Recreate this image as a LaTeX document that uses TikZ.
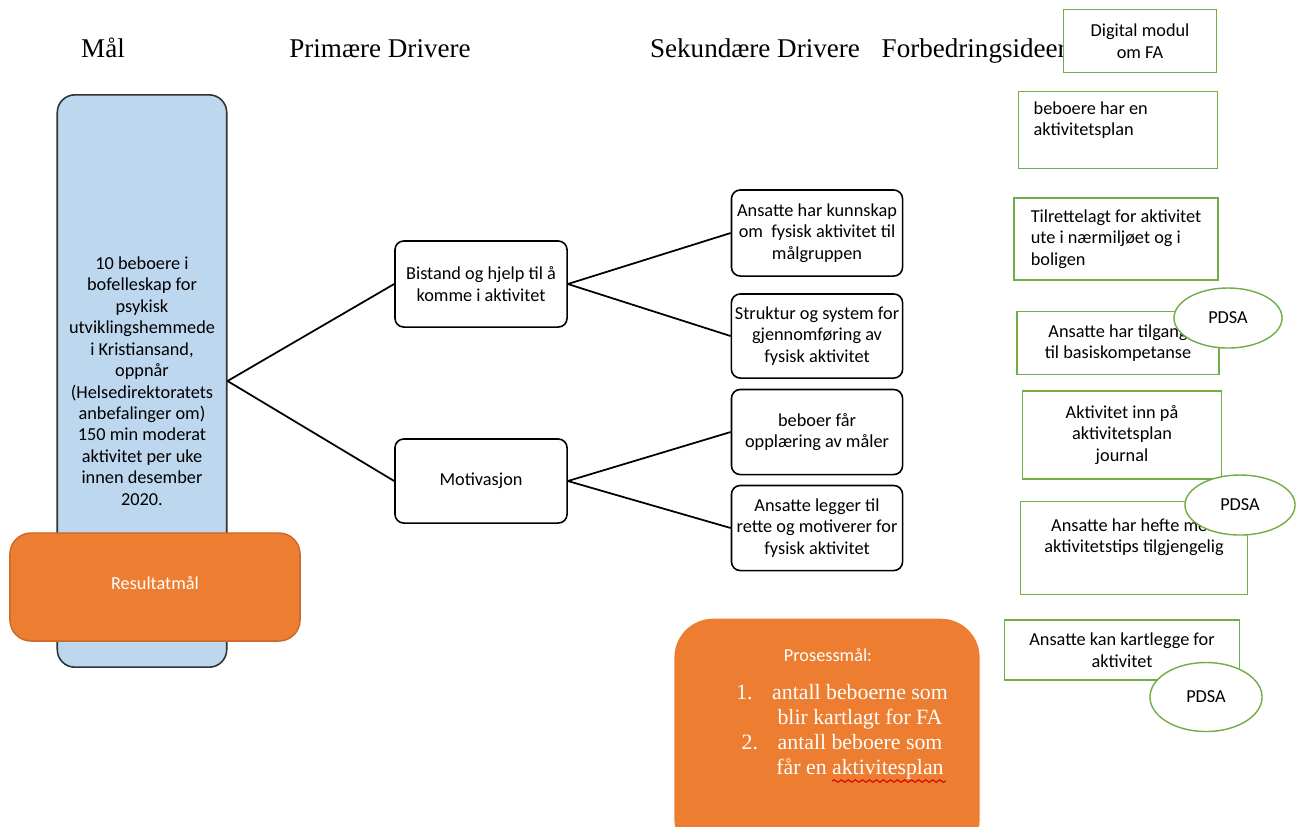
\documentclass[tikz,border=0pt]{standalone}
\usepackage{fontspec}
\setmainfont{Carlito}
\newfontfamily\headfont{Liberation Serif}
\usepackage{tikz}
\usetikzlibrary{positioning, shapes.geometric, decorations.pathmorphing}

\definecolor{goalblue}{HTML}{BDD7EE}
\definecolor{resorange}{HTML}{ED7D31}
\definecolor{ideagreen}{HTML}{70AD47}

\tikzset{
    heading/.style={font=\headfont\fontsize{7.7pt}{9pt}\selectfont, inner sep=0pt, anchor=base},
    driver/.style={draw=black, rounded corners=2.5pt, fill=white, line width=0.45pt,
        align=center, font=\fontsize{5.2pt}{6.1pt}\selectfont, inner sep=1pt},
    idea/.style={draw=ideagreen, fill=white, line width=0.4pt, align=center,
        font=\fontsize{5.2pt}{6.1pt}\selectfont, inner sep=1pt},
    ideatext/.style={align=left, font=\fontsize{5.2pt}{6.1pt}\selectfont, inner sep=0pt},
    pdsa/.style={ellipse, draw=ideagreen, fill=white, line width=0.4pt,
        font=\fontsize{5.2pt}{6.1pt}\selectfont, inner sep=0pt},
    link/.style={draw=black, line width=0.5pt}
}

\begin{document}
\begin{tikzpicture}[x=0.01cm, y=-0.01cm]
    \useasboundingbox (0,0) rectangle (1298,826);
    \clip (0,0) rectangle (1298,826);

    % 1. Column headings
    \node[heading] (hmaal) at (103,57) {Mål};
    \node[heading] (hprim) at (380,57) {Primære Drivere};
    \node[heading] (hsek) at (755,57) {Sekundære Drivere};
    \node[heading, anchor=base west] (hforb) at (881,57) {Forbedringsideer};

    % 2. Goal and result box
    \node[draw=black!80, fill=goalblue, rounded corners=5pt, line width=0.45pt,
        minimum width=1.68cm, minimum height=5.72cm, align=center,
        font=\fontsize{5.2pt}{6.1pt}\selectfont] (goal) at (142,381)
        {10 beboere i\\bofelleskap for\\psykisk\\utviklingshemmede\\i Kristiansand,\\oppnår\\(Helsedirektoratets\\anbefalinger om)\\150 min moderat\\aktivitet per uke\\innen desember\\2020.};
    \node[draw=resorange!85!black, fill=resorange, rounded corners=6pt, line width=0.4pt,
        minimum width=2.90cm, minimum height=1.08cm, text=white,
        font=\fontsize{5.2pt}{6.1pt}\selectfont] (result) at (155,587)
        {\raisebox{2pt}{Resultatmål}};

    % 3. Primary drivers
    \node[driver, minimum width=1.72cm, minimum height=0.86cm] (bistand) at (481,284)
        {Bistand og hjelp til å\\komme i aktivitet};
    \node[driver, minimum width=1.72cm, minimum height=0.84cm] (motiv) at (481,481)
        {Motivasjon};

    % 4. Secondary drivers
    \node[driver, minimum width=1.71cm, minimum height=0.86cm] (kunnskap) at (817,233)
        {Ansatte har kunnskap\\om\ \ fysisk aktivitet til\\målgruppen};
    \node[driver, minimum width=1.71cm, minimum height=0.84cm] (struktur) at (817,336)
        {Struktur og system for\\gjennomføring av\\fysisk aktivitet};
    \node[driver, minimum width=1.71cm, minimum height=0.85cm] (maaler) at (817,432)
        {beboer får\\opplæring av måler};
    \node[driver, minimum width=1.71cm, minimum height=0.85cm] (legger) at (817,528)
        {Ansatte legger til\\rette og motiverer for\\fysisk aktivitet};

    % 5. Lines between goal and drivers
    \draw[link] (goal.east) -- (bistand.west);
    \draw[link] (goal.east) -- (motiv.west);
    \draw[link] (bistand.east) -- (kunnskap.west);
    \draw[link] (bistand.east) -- (struktur.west);
    \draw[link] (motiv.east) -- (maaler.west);
    \draw[link] (motiv.east) -- (legger.west);

    % 6. Change ideas
    \node[idea, minimum width=1.53cm, minimum height=0.63cm] (digital) at (1140,41)
        {Digital modul\\om FA};
    \node[idea, minimum width=1.99cm, minimum height=0.77cm] (plan) at (1118,130) {};
    \node[ideatext, anchor=north west] (plant) at (1033,101)
        {beboere har en\\aktivitetsplan};
    \node[idea, align=left, minimum width=2.04cm, minimum height=0.82cm] (tilrette) at (1116,239)
        {Tilrettelagt for aktivitet\\ute i nærmiljøet og i\\boligen};
    \node[idea, minimum width=2.02cm, minimum height=0.63cm] (tilgang) at (1118,343)
        {Ansatte har tilgang\\til basiskompetanse};
    \node[idea, minimum width=1.99cm, minimum height=0.88cm] (journal) at (1122,435)
        {Aktivitet inn på\\aktivitetsplan\\journal};
    \node[idea, minimum width=2.27cm, minimum height=0.93cm] (hefte) at (1134,548) {};
    \node[ideatext, align=center, anchor=north] (heftet) at (1134,518)
        {Ansatte har hefte med\\aktivitetstips tilgjengelig};
    \node[idea, minimum width=2.35cm, minimum height=0.60cm] (kartlegge) at (1122,650)
        {Ansatte kan kartlegge for\\aktivitet};

    % 7. PDSA ellipses
    \node[pdsa, minimum width=1.08cm, minimum height=0.60cm] (pdsa1) at (1228,318) {PDSA};
    \node[pdsa, minimum width=1.10cm, minimum height=0.60cm] (pdsa2) at (1240,505) {PDSA};
    \node[pdsa, minimum width=1.12cm, minimum height=0.69cm] (pdsa3) at (1206,697) {PDSA};

    % 8. Process goals
    \node[fill=resorange, rounded corners=11pt, minimum width=3.05cm,
        minimum height=2.40cm, anchor=north] (process) at (827,618) {};
    \node[text=white, font=\fontsize{5.2pt}{6.1pt}\selectfont, inner sep=0pt] (proctitle)
        at (828,655) {Prosessmål:};
    \node[text=white, font=\headfont\fontsize{6.2pt}{7.1pt}\selectfont, align=center,
        inner sep=0pt, anchor=north] (proclist) at (860,684)
        {\llap{1.\hspace{0.9em}}antall beboerne som\\
         blir kartlagt for FA\\
         \llap{2.\hspace{0.9em}}antall beboere som\\
         får en aktivitesplan};
    \coordinate (wavya) at (832,781);
    \coordinate (wavyb) at (946,781);
    \draw[red!85!black, line width=0.3pt,
        decorate, decoration={snake, amplitude=0.35pt, segment length=2pt}] (wavya) -- (wavyb);
\end{tikzpicture}
\end{document}
